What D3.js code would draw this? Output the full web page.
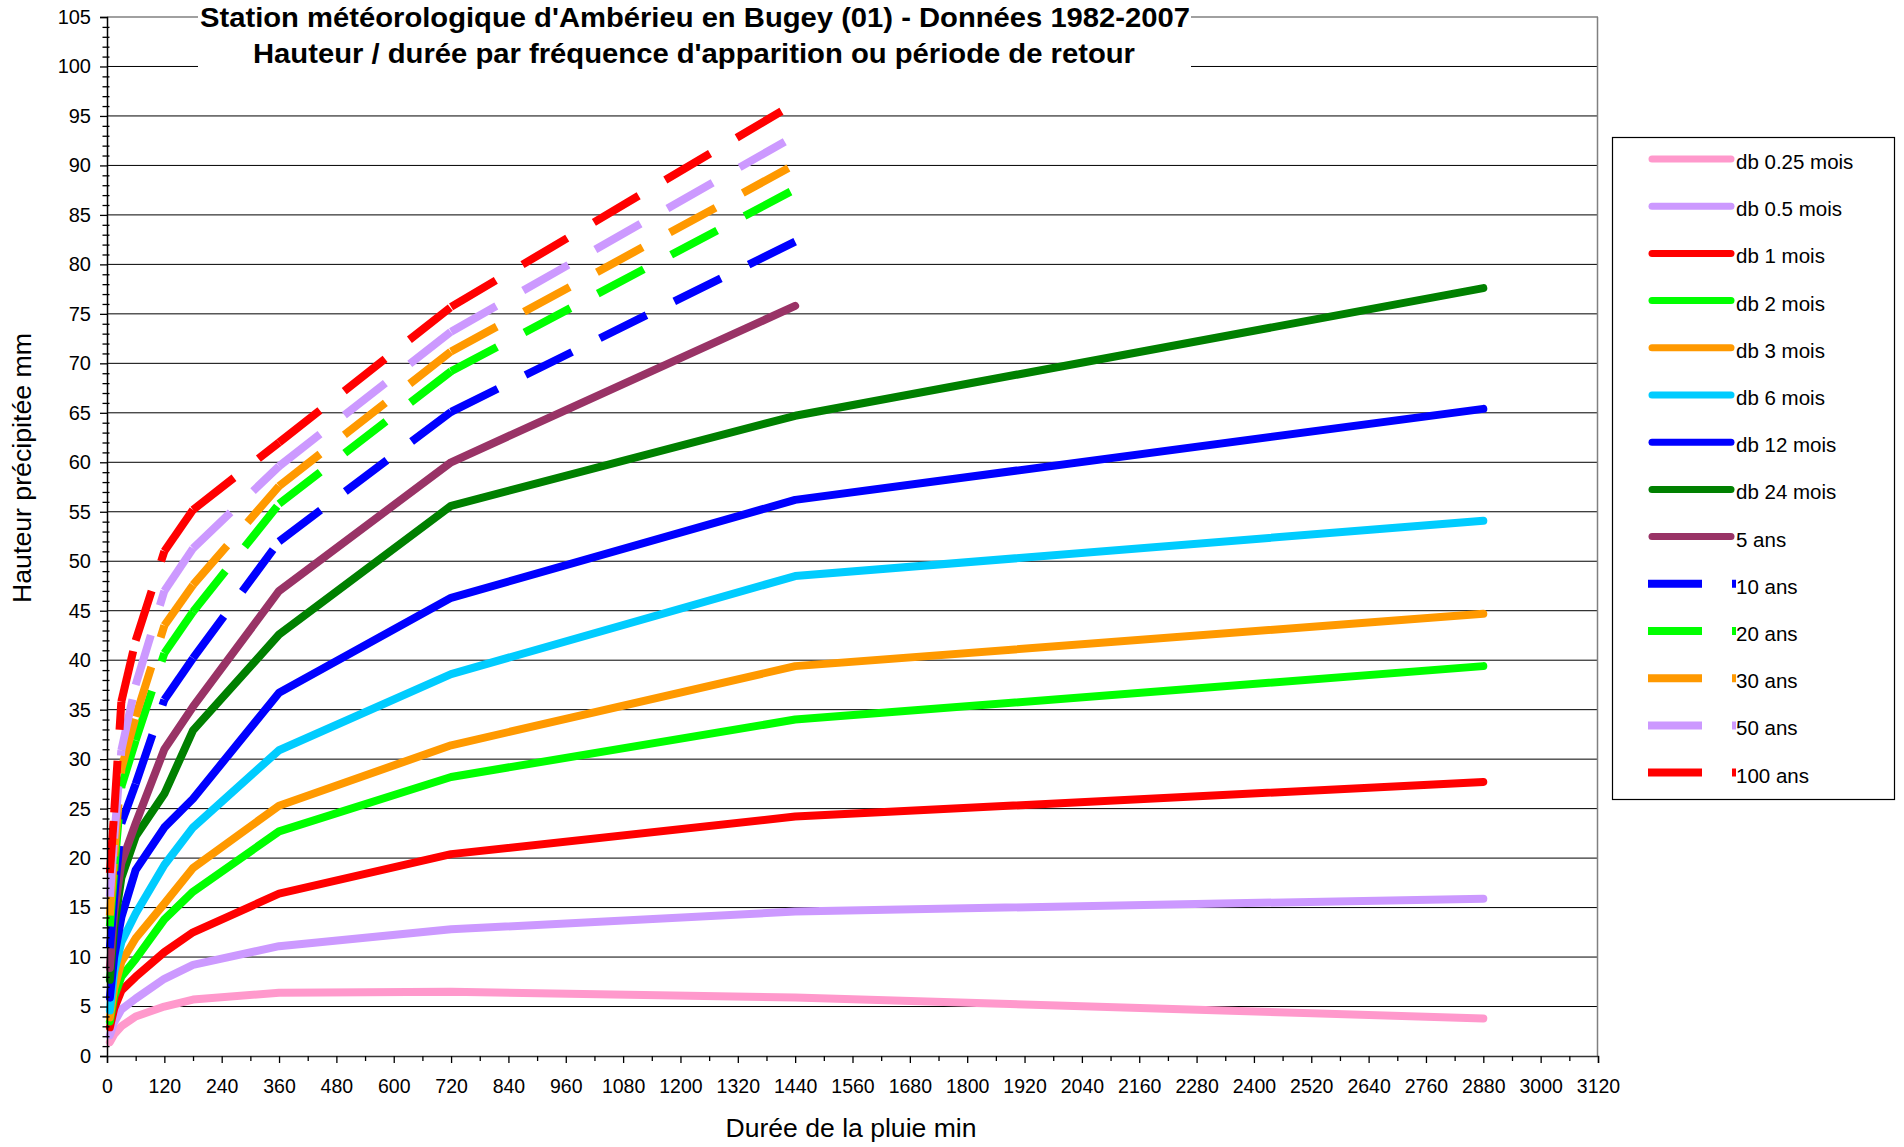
<!DOCTYPE html>
<html>
<head>
<meta charset="utf-8">
<script src="https://cdn.jsdelivr.net/npm/d3@7"></script>
<style>
  html, body { margin: 0; padding: 0; background: #fff; }
  svg { display: block; font-family: "Liberation Sans", Arial, sans-serif; }
</style>
</head>
<body>
<svg id="chart" width="1904" height="1147"></svg>
<script>
// ---------- data ----------
const titleLines = [
  "Station météorologique d'Ambérieu en Bugey (01) - Données 1982-2007",
  "Hauteur / durée par fréquence d'apparition ou période de retour"
];
const xAxisTitle = "Durée de la pluie min";
const yAxisTitle = "Hauteur précipitée mm";

const durations = [6, 15, 30, 60, 120, 180, 360, 720, 1440, 2880];

const seriesNames = ["db 0.25 mois", "db 0.5 mois", "db 1 mois", "db 2 mois", "db 3 mois",
  "db 6 mois", "db 12 mois", "db 24 mois", "5 ans", "10 ans", "20 ans", "30 ans", "50 ans", "100 ans"];
const seriesColors = ["#FF99CC", "#CC99FF", "#FF0000", "#00FF00", "#FF9900",
  "#00CCFF", "#0000FF", "#008000", "#993366", "#0000FF", "#00FF00", "#FF9900", "#CC99FF", "#FF0000"];
const seriesDashed = [false, false, false, false, false, false, false, false, false, true, true, true, true, true];

const db025 = [1.4, 2.2, 3.0, 4.0, 5.0, 5.7, 6.4, 6.5, 5.9, 3.8];
const db05  = [2.1, 3.4, 4.7, 5.8, 7.8, 9.2, 11.1, 12.8, 14.6, 15.9];
const db1   = [2.9, 4.8, 6.6, 8.0, 10.5, 12.5, 16.4, 20.4, 24.2, 27.7];
const db2   = [3.5, 6.0, 8.0, 9.8, 13.8, 16.6, 22.7, 28.2, 34.0, 39.4];
const db3   = [3.9, 6.8, 9.5, 11.9, 15.4, 19.0, 25.3, 31.4, 39.4, 44.7];
const db6   = [4.6, 8.5, 11.5, 14.4, 19.3, 23.1, 30.9, 38.6, 48.5, 54.1];
const db12  = [5.9, 10.0, 14.0, 18.8, 23.1, 26.0, 36.7, 46.3, 56.2, 65.4];
const db24  = [7.7, 13.0, 18.0, 22.2, 26.5, 32.9, 42.6, 55.6, 64.7, 77.6];
const ans5   = [8.9, 14.5, 19.5, 23.5, 31.0, 35.3, 47.0, 60.0, 75.8];
const ans10  = [10.9, 16.0, 23.5, 27.5, 36.0, 40.2, 52.0, 65.1, 82.3];
const ans20  = [13.1, 18.7, 27.2, 31.9, 40.7, 44.9, 55.8, 69.2, 87.6];
const ans30  = [14.2, 20.2, 29.0, 34.3, 43.5, 47.6, 57.6, 71.2, 90.1];
const ans50  = [16.1, 22.0, 30.9, 37.5, 47.0, 51.3, 59.6, 73.2, 93.0];
const ans100 = [18.5, 24.6, 35.8, 42.0, 51.0, 55.2, 62.0, 75.7, 96.3];

const seriesValues = [db025, db05, db1, db2, db3, db6, db12, db24, ans5, ans10, ans20, ans30, ans50, ans100];

const xTicks = d3.range(0, 3121, 120);
const xMinorTicks = d3.range(0, 3121, 60);
const yTicks = d3.range(0, 106, 5);
const yMinorTicks = d3.range(0, 106, 1);

// ---------- layout ----------
const svg = d3.select("#chart");
const X0 = 107, X1 = 1598, Y0 = 1056, Y1 = 17;
const x = d3.scaleLinear().domain([0, 3120]).range([X0, X1]);
const y = d3.scaleLinear().domain([0, 105]).range([Y0, Y1]);
const FONT = '"Liberation Sans", Arial, sans-serif';

// gridlines
svg.append("g").selectAll("line").data(yTicks.filter(v => v > 0 && v < 105)).join("line")
  .attr("x1", X0).attr("x2", X1).attr("y1", d => y(d)).attr("y2", d => y(d))
  .attr("stroke", "#000").attr("stroke-width", 1);

// plot border (top & right)
svg.append("line").attr("x1", X0).attr("x2", X1).attr("y1", y(105)).attr("y2", y(105))
  .attr("stroke", "#808080").attr("stroke-width", 1.5);
svg.append("line").attr("x1", X1 - 0.5).attr("x2", X1 - 0.5).attr("y1", y(105)).attr("y2", Y0)
  .attr("stroke", "#808080").attr("stroke-width", 1.5);

// series
const lineGen = d3.line().x(d => x(d[0])).y(d => y(d[1]));
const gSeries = svg.append("g");
seriesValues.forEach((vals, i) => {
  const pts = vals.map((v, k) => [durations[k], v]);
  if (!seriesDashed[i]) {
    gSeries.append("path").attr("d", lineGen(pts))
      .attr("fill", "none").attr("stroke", seriesColors[i]).attr("stroke-width", 8)
      .attr("stroke-linecap", "round").attr("stroke-linejoin", "round");
  } else {
    for (let k = 0; k < pts.length - 1; k++) {
      gSeries.append("path").attr("d", lineGen([pts[k], pts[k + 1]]))
        .attr("fill", "none").attr("stroke", seriesColors[i]).attr("stroke-width", 8)
        .attr("stroke-linecap", "butt").attr("stroke-dasharray", "52 31");
    }
  }
});

// axes
const yAxis = d3.axisLeft(y).tickValues(yTicks).tickSize(7).tickPadding(9).tickFormat(d3.format("d"));
const gy = svg.append("g").attr("transform", `translate(${X0},0)`).call(yAxis);
gy.select(".domain").attr("stroke", "#000").attr("stroke-width", 1.5);
gy.selectAll(".tick line").attr("stroke", "#000").attr("stroke-width", 1.3);
gy.selectAll(".tick text").attr("font-size", 20).attr("font-family", FONT).attr("fill", "#000");

const yMinor = d3.axisLeft(y).tickValues(yMinorTicks.filter(v => v % 5 !== 0)).tickSize(7).tickFormat("");
const gym = svg.append("g").attr("transform", `translate(${X0 + 2.5},0)`).call(yMinor);
gym.select(".domain").remove();
gym.selectAll(".tick line").attr("stroke", "#000").attr("stroke-width", 1.3);

const xAxis = d3.axisBottom(x).tickValues(xTicks).tickSize(7).tickPadding(16).tickFormat(d3.format("d"));
const gx = svg.append("g").attr("transform", `translate(0,${Y0})`).call(xAxis);
gx.select(".domain").attr("stroke", "#333").attr("stroke-width", 1.5);
gx.selectAll(".tick line").attr("stroke", "#000").attr("stroke-width", 1.3);
gx.selectAll(".tick text").attr("font-size", 19.5).attr("font-family", FONT).attr("fill", "#000");

const xMinor = d3.axisBottom(x).tickValues(xMinorTicks.filter(v => v % 120 !== 0)).tickSize(5).tickFormat("");
const gxm = svg.append("g").attr("transform", `translate(0,${Y0})`).call(xMinor);
gxm.select(".domain").remove();
gxm.selectAll(".tick line").attr("stroke", "#000").attr("stroke-width", 1.3);

// axis titles
svg.append("text").attr("x", 851).attr("y", 1137).attr("text-anchor", "middle")
  .attr("font-size", 25).attr("font-family", FONT).attr("textLength", 251)
  .attr("lengthAdjust", "spacingAndGlyphs").text(xAxisTitle);
svg.append("text").attr("transform", "translate(31,468) rotate(-90)").attr("text-anchor", "middle")
  .attr("font-size", 25).attr("font-family", FONT).attr("textLength", 270)
  .attr("lengthAdjust", "spacingAndGlyphs").text(yAxisTitle);

// title box
svg.append("rect").attr("x", 198).attr("y", 0).attr("width", 993).attr("height", 84).attr("fill", "#fff");
svg.append("text").attr("x", 695).attr("y", 27).attr("text-anchor", "middle")
  .attr("font-size", 28).attr("font-weight", "bold").attr("font-family", FONT)
  .attr("textLength", 990).attr("lengthAdjust", "spacingAndGlyphs").text(titleLines[0]);
svg.append("text").attr("x", 694).attr("y", 63).attr("text-anchor", "middle")
  .attr("font-size", 28).attr("font-weight", "bold").attr("font-family", FONT)
  .attr("textLength", 882).attr("lengthAdjust", "spacingAndGlyphs").text(titleLines[1]);

// legend
const lg = svg.append("g");
lg.append("rect").attr("x", 1612.5).attr("y", 137.5).attr("width", 282).attr("height", 662)
  .attr("fill", "#fff").attr("stroke", "#000").attr("stroke-width", 1.2);
seriesNames.forEach((name, i) => {
  const cy = 159 + i * 47.2;
  if (!seriesDashed[i]) {
    lg.append("line").attr("x1", 1652).attr("x2", 1731).attr("y1", cy).attr("y2", cy)
      .attr("stroke", seriesColors[i]).attr("stroke-width", 7).attr("stroke-linecap", "round");
  } else {
    lg.append("line").attr("x1", 1648).attr("x2", 1736).attr("y1", cy).attr("y2", cy)
      .attr("stroke", seriesColors[i]).attr("stroke-width", 8).attr("stroke-dasharray", "54 30");
  }
  lg.append("text").attr("x", 1736).attr("y", cy + 10).attr("font-size", 20.5)
    .attr("font-family", FONT).attr("fill", "#000").text(name);
});
</script>
</body>
</html>
